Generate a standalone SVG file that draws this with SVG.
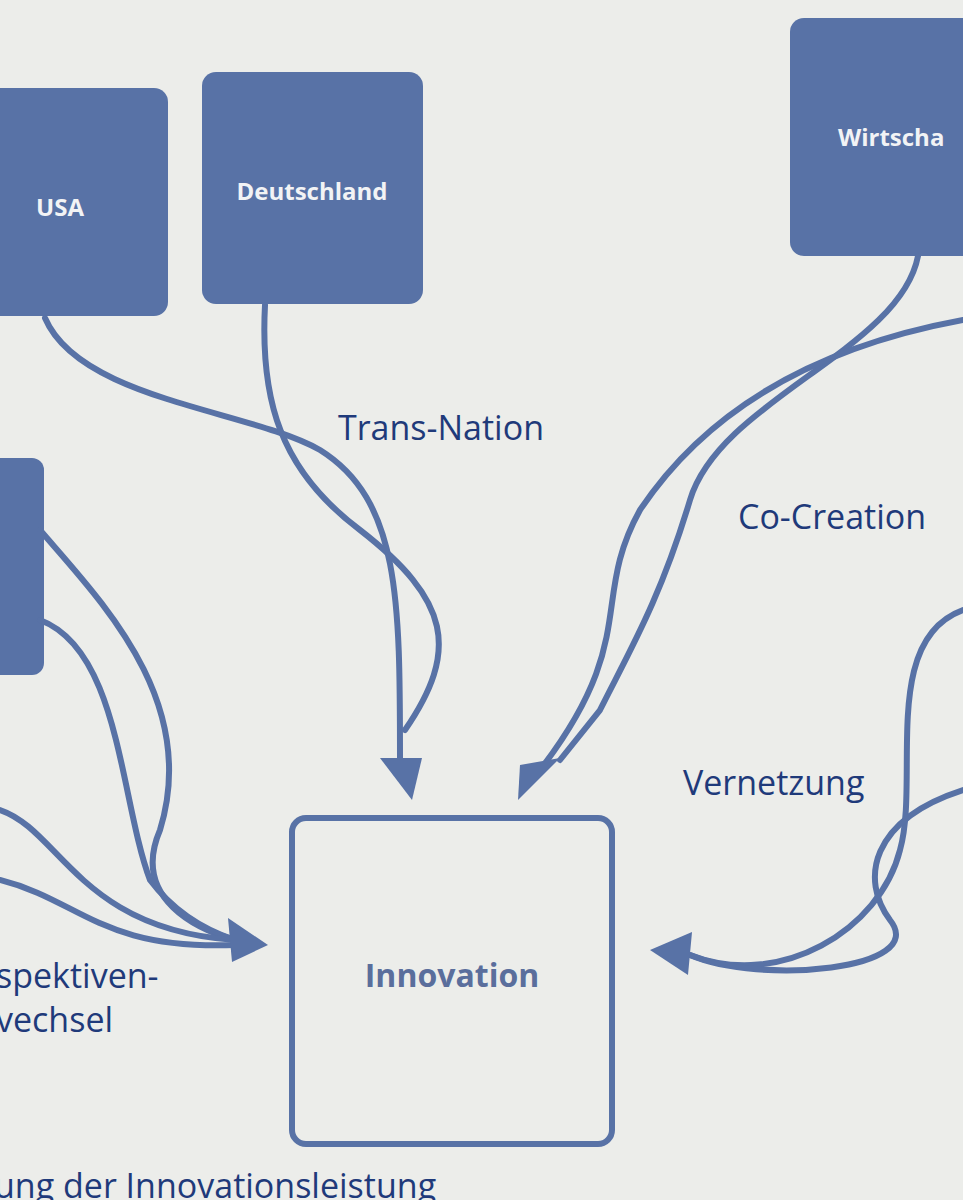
<svg xmlns="http://www.w3.org/2000/svg" width="963" height="1200" viewBox="0 0 963 1200">
<style>
.box{fill:#5872a6}
.bt{fill:#f2f3f5;font-family:"Open Sans","Liberation Sans",sans-serif;font-weight:bold;font-size:24px;text-anchor:middle}
.lbl{fill:#1f3a7a;font-family:"Open Sans","Liberation Sans",sans-serif;font-size:34px}
.c{fill:none;stroke:#5872a6;stroke-width:6;stroke-linecap:round}
.ah{fill:#5872a6}
</style>
<rect width="963" height="1200" fill="#ecedea"/>
<g id="usa"><rect class="box" x="-20" y="88" width="188" height="228" rx="14"/><text class="bt" x="60" y="216">USA</text></g>
<g id="deutschland"><rect class="box" x="202" y="72" width="221" height="232" rx="14"/><text class="bt" x="312" y="200">Deutschland</text></g>
<g id="wirtschaft"><rect class="box" x="790" y="18" width="200" height="238" rx="14"/><text class="bt" x="838" y="146" text-anchor="start" style="text-anchor:start">Wirtscha</text></g>
<g id="left"><rect class="box" x="-20" y="458" width="64" height="217" rx="12"/></g>
<g id="innovation"><rect x="292" y="818" width="320" height="326" rx="14" fill="none" stroke="#5872a6" stroke-width="6"/><text class="bt" x="452" y="987" style="fill:#5a6e9c;font-size:32px">Innovation</text></g>
<g id="connectors">
<path class="c" d="M45,318 C80,400 250,410 320,450 C400,500 400,600 400,760"/>
<path class="c" d="M265,305 C260,400 280,470 360,530 C450,600 460,650 405,730"/>
<polygon class="ah" points="380,758 422,758 412,800"/>
<path class="c" d="M918,256 C900,350 720,400 690,500 C660,600 630,650 600,710 L560,760"/>
<path class="c" d="M963,320 C800,350 700,420 640,510 C590,600 640,640 540,770"/>
<polygon class="ah" points="520,765 560,758 518,800"/>
<path class="c" d="M963,610 C880,640 920,780 900,850 C880,930 780,990 690,955"/>
<path class="c" d="M963,790 C870,820 860,880 890,920 C930,970 760,985 690,955"/>
<polygon class="ah" points="692,932 688,975 650,950"/>
<path class="c" d="M40,530 C100,600 200,700 160,830 C130,900 200,930 235,940"/>
<path class="c" d="M40,620 C120,650 120,800 150,880 C180,920 220,935 235,940"/>
<path class="c" d="M0,810 C60,830 80,930 235,940"/>
<path class="c" d="M0,880 C80,900 100,950 235,945"/>
<polygon class="ah" points="228,918 232,962 268,945"/>
</g>
<text class="lbl" x="338" y="440">Trans-Nation</text>
<text class="lbl" x="738" y="529">Co-Creation</text>
<text class="lbl" x="683" y="795">Vernetzung</text>
<text class="lbl" x="-4" y="988">spektiven-</text>
<text class="lbl" x="-4" y="1032">vechsel</text>
<text class="lbl" x="-6" y="1198">ung der Innovationsleistung</text>
</svg>
